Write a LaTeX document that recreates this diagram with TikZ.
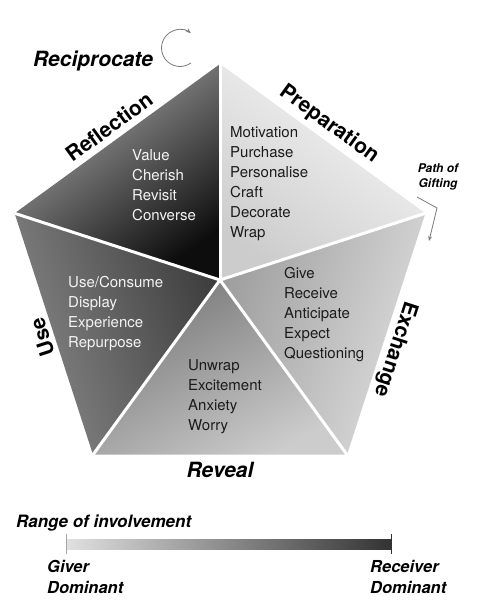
\documentclass[tikz,border=0pt]{standalone}
\usepackage{fontspec}
\setmainfont{TeX Gyre Heros}
\usetikzlibrary{arrows.meta}
\definecolor{inkdark}{HTML}{1C1C1C}
\definecolor{inklight}{HTML}{F4F4F4}
\definecolor{arrowgray}{HTML}{7A7A7A}
\begin{document}
\begin{tikzpicture}[x=1pt,y=-1pt,
  title/.style={font=\fontsize{21}{24}\selectfont\bfseries, text height=15pt, text depth=0pt, inner sep=0pt, text=black},
  ilabel/.style={font=\fontsize{21}{24}\selectfont\bfseries\itshape, text height=15pt, text depth=0pt, inner sep=0pt, text=black},
  items/.style={font=\fontsize{15}{20}\selectfont, align=left, anchor=north west, inner sep=0pt},
  divider/.style={draw=white, line width=3pt},
  thinarrow/.style={draw=arrowgray, line width=0.8pt, -{Stealth[length=5pt,width=4pt]}},
  tick/.style={draw=#1, line width=0.9pt}
]
\useasboundingbox (0,0) rectangle (478,608);

% pentagon vertices
\coordinate (C) at (220,280);
\coordinate (T) at (220,64);
\coordinate (R) at (425.4,213.3);
\coordinate (BR) at (347,454.7);
\coordinate (BL) at (93,454.7);
\coordinate (L) at (14.6,213.3);

% sections
\shade[top color=white!67!black, middle color=white!43!black, bottom color=white!5!black, shading angle=36] (C) -- (T) -- (L) -- cycle;
\shade[top color=white!97!black, middle color=white!90!black, bottom color=white!80!black, shading angle=-36] (C) -- (T) -- (R) -- cycle;
\shade[top color=white!87!black, middle color=white!76!black, bottom color=white!62!black, shading angle=-108] (C) -- (R) -- (BR) -- cycle;
\shade[top color=white!80!black, middle color=white!67!black, bottom color=white!47!black, shading angle=-150] (C) -- (BR) -- (BL) -- cycle;
\shade[top color=white!53!black, middle color=white!42!black, bottom color=white!24!black, shading angle=108] (C) -- (BL) -- (L) -- cycle;

% white dividers
\draw[divider] (C) -- (T);
\draw[divider] (C) -- (R);
\draw[divider] (C) -- (BR);
\draw[divider] (C) -- (BL);
\draw[divider] (C) -- (L);

% section titles
\node[title, rotate=36] (reflection) at (109,127) {Reflection};
\node[title, rotate=-36] (preparation) at (330,123) {Preparation};
\node[title, rotate=-108] (exchange) at (397,350) {Exchange};
\node[title, rotate=108] (use) at (42,337) {Use};
\node[ilabel] (reveal) at (220,470) {Reveal};
\node[ilabel] (reciprocate) at (93,59) {Reciprocate};

% section contents
\node[items, text=inklight] (reflitems) at (132,149.7) {Value\\Cherish\\Revisit\\Converse};
\node[items, text=inkdark] (prepitems) at (230,126.7) {Motivation\\Purchase\\Personalise\\Craft\\Decorate\\Wrap};
\node[items, text=inkdark] (exchitems) at (284,266.7) {Give\\Receive\\Anticipate\\Expect\\Questioning};
\node[items, text=inklight] (useitems) at (68,275.7) {Use/Consume\\Display\\Experience\\Repurpose};
\node[items, text=inkdark] (revitems) at (188,359.7) {Unwrap\\Excitement\\Anxiety\\Worry};

% reciprocate circular arrow
\draw[thinarrow] (180,48) ++(54:18.5) arc[start angle=54, end angle=306, radius=18.5];

% path of gifting
\node[font=\fontsize{12}{15}\selectfont\bfseries\itshape, align=center, inner sep=0pt] (pog) at (438,177) {Path of\\Gifting};
\coordinate (pga) at (417,197);
\coordinate (pgb) at (437,208);
\coordinate (pgc) at (429,241);
\draw[thinarrow] (pga) -- (pgb) -- (pgc);

% range of involvement
\node[font=\fontsize{17}{20}\selectfont\bfseries\itshape, anchor=base west, inner sep=0pt] (range) at (16,527) {Range of involvement};
\coordinate (barl) at (66,539);
\coordinate (barr) at (391,549);
\shade[left color=white!88!black, right color=white!20!black] (barl) rectangle (barr);
\coordinate (tlt) at (66,534);
\coordinate (tlb) at (66,554);
\coordinate (trt) at (391,534);
\coordinate (trb) at (391,554);
\draw[tick=white!65!black] (tlt) -- (tlb);
\draw[tick=white!20!black] (trt) -- (trb);
\node[font=\fontsize{16.5}{21}\selectfont\bfseries\itshape, align=left, anchor=north west, inner sep=0pt] (giver) at (47,560.5) {Giver\\Dominant};
\node[font=\fontsize{16.5}{21}\selectfont\bfseries\itshape, align=left, anchor=north west, inner sep=0pt] (receiver) at (370,560.5) {Receiver\\Dominant};
\end{tikzpicture}
\end{document}
